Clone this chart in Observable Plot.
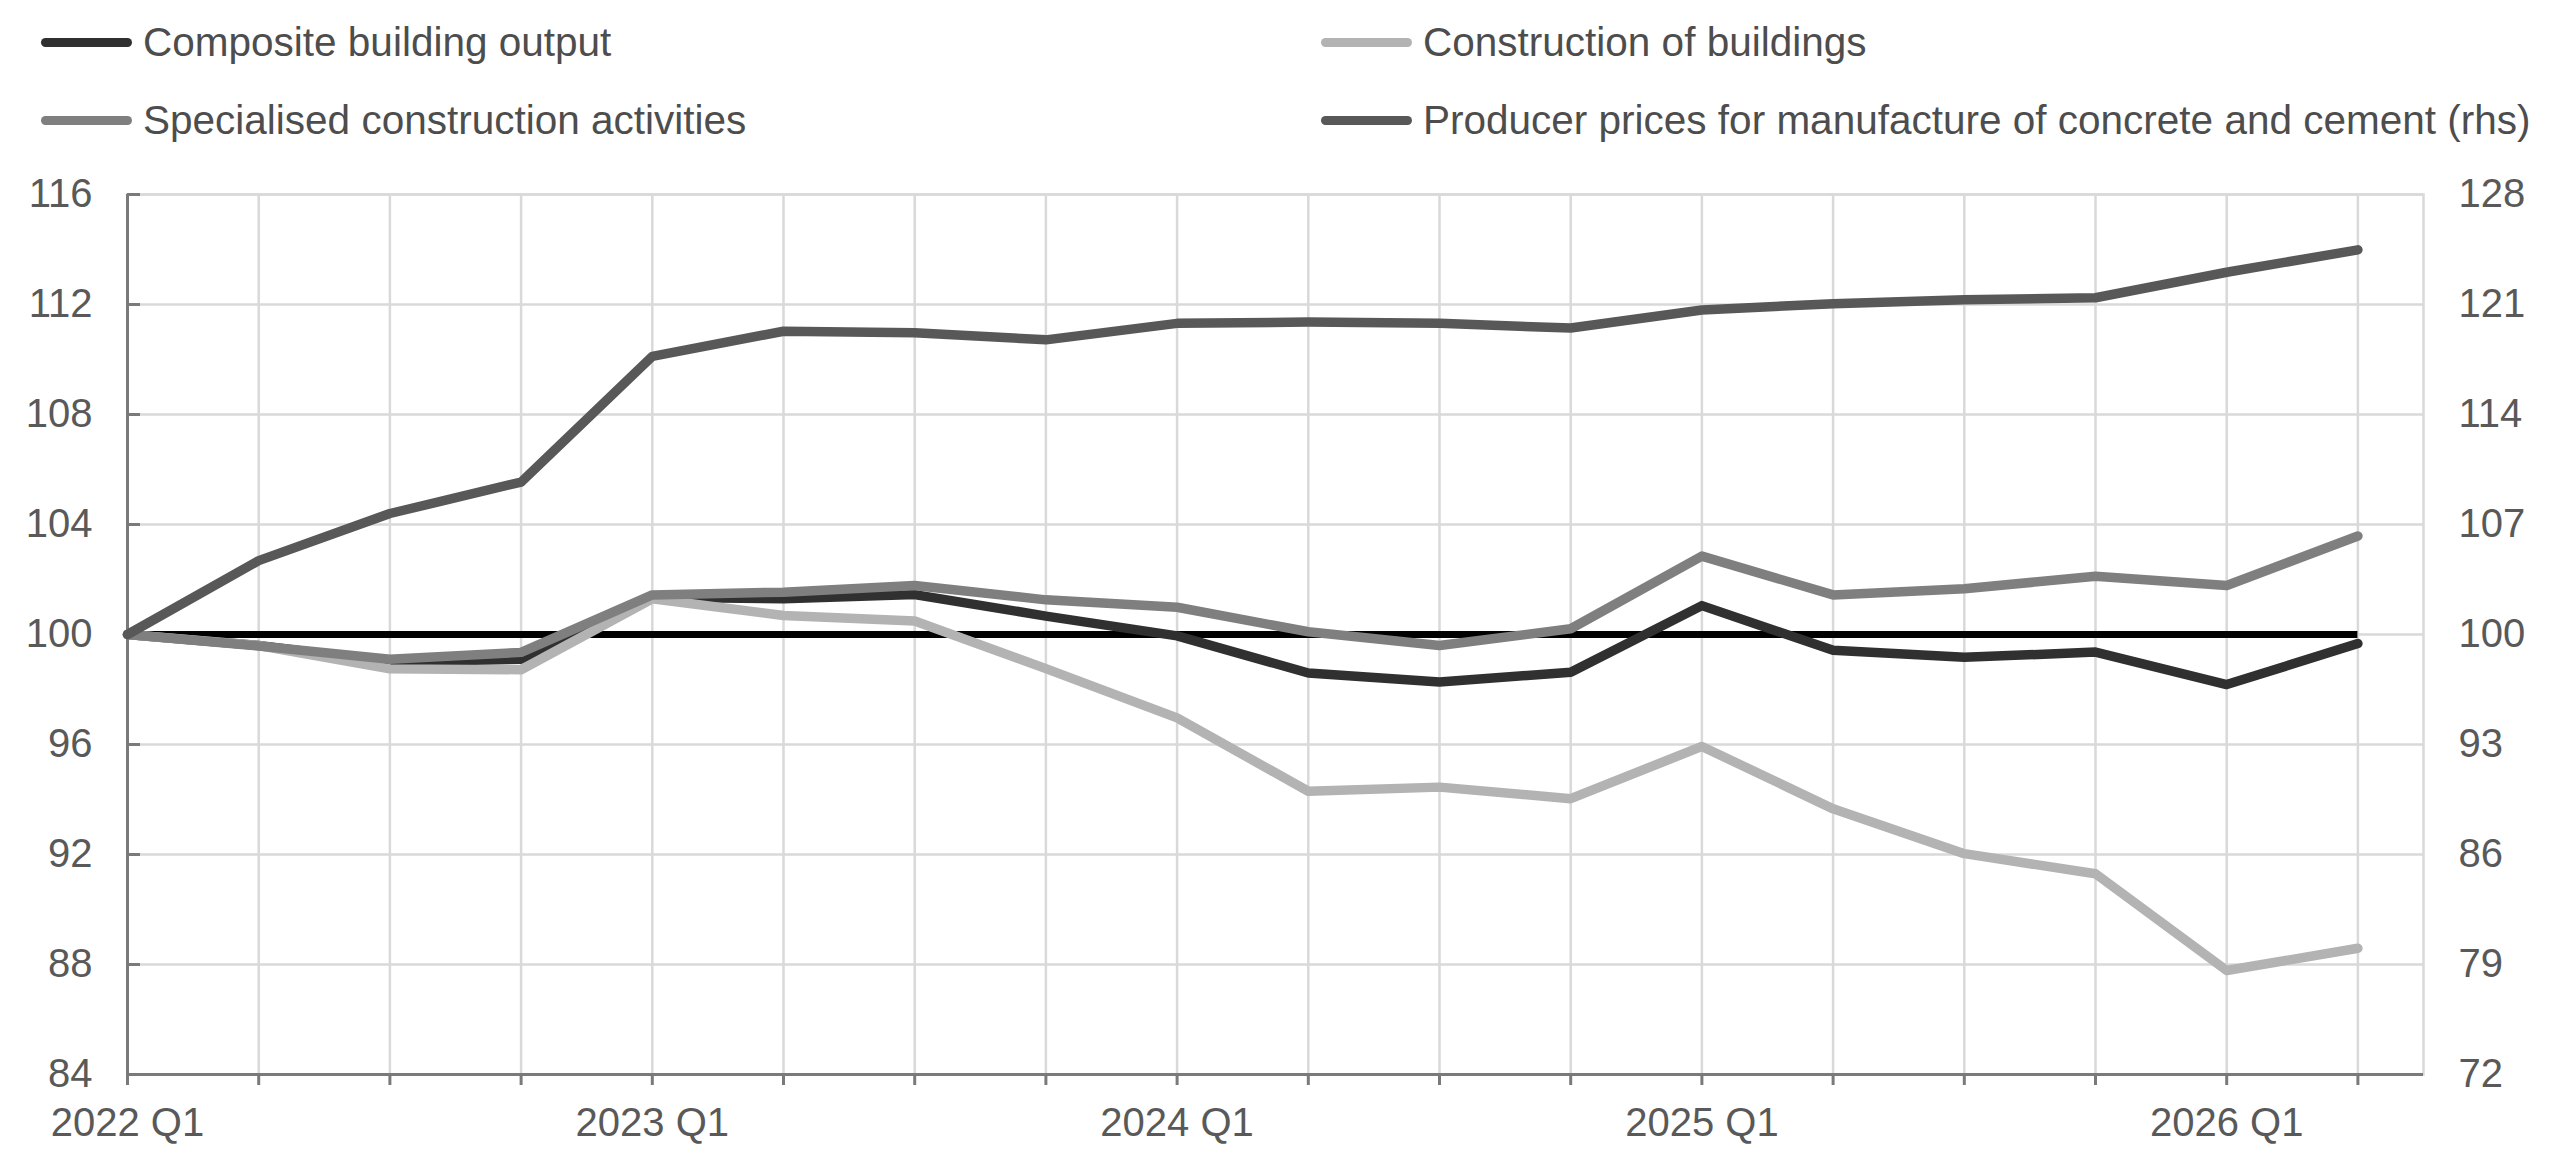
<!DOCTYPE html>
<html>
<head>
<meta charset="utf-8">
<script src="https://cdn.jsdelivr.net/npm/d3@7"></script>
<script src="https://cdn.jsdelivr.net/npm/@observablehq/plot@0.6"></script>
<style>
  html, body { margin: 0; padding: 0; background: #fff; }
  body { width: 2560px; height: 1150px; overflow: hidden; font-family: "Liberation Sans", Arial, sans-serif; }
  #legend { position: relative; height: 160px; width: 2560px; }
  .sw { position: absolute; height: 9px; border-radius: 4.5px; }
  .lt { position: absolute; font-size: 40.5px; line-height: 40px; color: #4d4d4d; white-space: nowrap; }
  #chart svg { display: block; }
</style>
</head>
<body>
<div id="legend"></div>
<div id="chart"></div>
<script>
// ---- data ----
const quarters = ["2022 Q1","2022 Q2","2022 Q3","2022 Q4","2023 Q1","2023 Q2","2023 Q3","2023 Q4",
                  "2024 Q1","2024 Q2","2024 Q3","2024 Q4","2025 Q1","2025 Q2","2025 Q3","2025 Q4",
                  "2026 Q1","2026 Q2"];
const compositeOutput   = [100, 99.6, 99.0, 99.1, 101.35, 101.3, 101.45, 100.67, 99.95, 98.6, 98.27, 98.63, 101.05, 99.43, 99.17, 99.36, 98.18, 99.67];
const constructionBldgs = [100, 99.6, 98.75, 98.72, 101.3, 100.69, 100.49, 98.76, 96.97, 94.3, 94.45, 94.03, 95.93, 93.66, 92.03, 91.3, 87.78, 88.59];
const specialisedActs   = [100, 99.58, 99.1, 99.35, 101.44, 101.54, 101.78, 101.26, 100.99, 100.1, 99.6, 100.21, 102.85, 101.44, 101.66, 102.12, 101.78, 103.58];
const producerPrices    = [100, 104.7, 107.7, 109.7, 117.7, 119.3, 119.2, 118.75, 119.8, 119.88, 119.8, 119.5, 120.65, 121.05, 121.3, 121.43, 123.05, 124.48];
const referenceLevel = 100;
const leftTicks = [84, 88, 92, 96, 100, 104, 108, 112, 116];
const rhsTicks  = [72, 79, 86, 93, 100, 107, 114, 121, 128];
const seriesNames = ["Composite building output", "Construction of buildings",
                     "Specialised construction activities", "Producer prices for manufacture of concrete and cement (rhs)"];
const seriesColors = ["#303030", "#b3b3b3", "#7f7f7f", "#585858"];

// ---- legend ----
const legend = document.getElementById("legend");
const legCols = [41, 1321], legRows = [42, 120];
const legendOrder = [0, 1, 2, 3];
legendOrder.forEach((s, k) => {
  const col = k % 2, row = Math.floor(k / 2);
  const sw = document.createElement("div");
  sw.className = "sw";
  sw.style.left = legCols[col] + "px";
  sw.style.width = "91px";
  sw.style.top = (legRows[row] - 4.5) + "px";
  sw.style.background = seriesColors[s];
  legend.appendChild(sw);
  const t = document.createElement("div");
  t.className = "lt";
  t.style.left = (legCols[col] + 102) + "px";
  t.style.top = (legRows[row] - 20) + "px";
  t.textContent = seriesNames[s];
  legend.appendChild(t);
});

// ---- chart ----
const leftDomain = [leftTicks[0], leftTicks[leftTicks.length - 1]];
const rhsDomain = [rhsTicks[0], rhsTicks[rhsTicks.length - 1]];
const rhsToLeft = v => leftDomain[0] + (v - rhsDomain[0]) * (leftDomain[1] - leftDomain[0]) / (rhsDomain[1] - rhsDomain[0]);

const idx = d3.range(quarters.length);
const rows = vals => idx.map(i => ({i, v: vals[i]}));
const lineOpts = color => ({x: "i", y: "v", stroke: color, strokeWidth: 9.5, strokeLinejoin: "round", strokeLinecap: "round"});

const gridColor = "#d9d9d9";
const axisColor = "#7a7a7a";
const labelColor = "#595959";

const chart = Plot.plot({
  width: 2560,
  height: 990,
  marginTop: 34,
  marginRight: 137,
  marginBottom: 76,
  marginLeft: 127,
  style: {fontFamily: '"Liberation Sans", Arial, sans-serif', fontSize: "40px", color: labelColor, background: "#fff", overflow: "visible"},
  x: {type: "linear", domain: [0, quarters.length - 0.5]},
  y: {domain: leftDomain},
  marks: [
    Plot.frame({stroke: gridColor, strokeWidth: 2.5}),
    Plot.gridY(leftTicks, {stroke: gridColor, strokeOpacity: 1, strokeWidth: 2.5}),
    Plot.gridX(idx, {stroke: gridColor, strokeOpacity: 1, strokeWidth: 2.5}),
    Plot.ruleX([0], {stroke: axisColor, strokeWidth: 3}),
    Plot.ruleY([leftDomain[0]], {stroke: axisColor, strokeWidth: 3}),
    Plot.axisY(leftTicks, {anchor: "left", tickSize: -13, fill: "none", stroke: axisColor, strokeWidth: 3}),
    Plot.axisY(leftTicks, {anchor: "left", tickSize: 0, tickPadding: 35, fill: labelColor, fontSize: 40, label: null}),
    Plot.text(rhsTicks, {y: d => rhsToLeft(d), text: d => String(d), frameAnchor: "right", dx: 35, textAnchor: "start", fill: labelColor, fontSize: 40}),
    Plot.axisX(idx, {anchor: "bottom", tickSize: 11, tickPadding: 22, stroke: axisColor, strokeWidth: 3, fill: labelColor, fontSize: 40,
      tickFormat: i => (i % 4 === 0 ? quarters[i] : ""), label: null}),
    Plot.ruleY([referenceLevel], {x1: 0, x2: quarters.length - 1, stroke: "#000", strokeWidth: 7}),
    Plot.line(rows(compositeOutput), lineOpts(seriesColors[0])),
    Plot.line(rows(constructionBldgs), lineOpts(seriesColors[1])),
    Plot.line(rows(specialisedActs), lineOpts(seriesColors[2])),
    Plot.line(idx.map(i => ({i, v: rhsToLeft(producerPrices[i])})), lineOpts(seriesColors[3]))
  ]
});
document.getElementById("chart").appendChild(chart);
</script>
</body>
</html>
